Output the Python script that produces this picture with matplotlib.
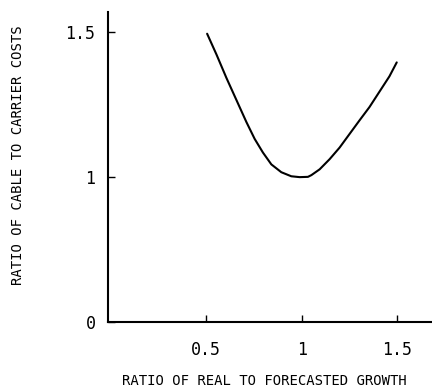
import numpy as np
import matplotlib
matplotlib.use("Agg")
import matplotlib.pyplot as plt
from matplotlib.ticker import FixedLocator, FixedFormatter

# Data
growth_ratio = [0.507, 0.556, 0.608, 0.660, 0.712, 0.755, 0.798, 0.842, 0.894,
                0.946, 0.990, 1.033, 1.051, 1.094, 1.146, 1.198, 1.250, 1.302,
                1.354, 1.406, 1.458, 1.496]
cost_ratio = [1.495, 1.423, 1.342, 1.266, 1.190, 1.132, 1.085, 1.044, 1.017,
              1.003, 1.000, 1.001, 1.007, 1.027, 1.062, 1.102, 1.149, 1.196,
              1.242, 1.295, 1.348, 1.396]
x_ticks = [0.5, 1, 1.5]
x_tick_labels = ["0.5", "1", "1.5"]
y_ticks = [0, 1, 1.5]
y_tick_labels = ["0", "1", "1.5"]


# The y axis of the original is stretched above 1 (1 -> 1.5 spans as much as 0 -> 1)
def fwd(y):
    y = np.asarray(y, dtype=float)
    return np.where(y <= 1, y, 1 + 2 * (y - 1))


def inv(t):
    t = np.asarray(t, dtype=float)
    return np.where(t <= 1, t, 1 + (t - 1) / 2)


mono = "DejaVu Sans Mono"

fig = plt.figure(figsize=(4.32, 3.90), dpi=100)
ax = fig.add_axes([108 / 432, (390 - 322) / 390, (432 - 108) / 432, (322 - 12) / 390])

ax.plot(growth_ratio, cost_ratio, color="black", lw=1.5,
        solid_capstyle="round", solid_joinstyle="round")

ax.set_yscale("function", functions=(fwd, inv))
ax.set_xlim(-0.01, 1.68)
ax.set_ylim(0, 1.57)

for s in ["top", "right"]:
    ax.spines[s].set_visible(False)
for s in ["left", "bottom"]:
    ax.spines[s].set_linewidth(1.5)

ax.xaxis.set_major_locator(FixedLocator(x_ticks))
ax.xaxis.set_major_formatter(FixedFormatter(x_tick_labels))
ax.yaxis.set_major_locator(FixedLocator(y_ticks))
ax.yaxis.set_major_formatter(FixedFormatter(y_tick_labels))
ax.minorticks_off()
ax.tick_params(axis="x", direction="in", length=5, width=1, pad=14, labelsize=12)
ax.tick_params(axis="y", direction="in", length=5, width=1, pad=9, labelsize=12)
for lab in ax.get_xticklabels() + ax.get_yticklabels():
    lab.set_family(mono)

fig.text(264 / 432, 1 - 381 / 390, "RATIO OF REAL TO FORECASTED GROWTH",
         ha="center", va="center", fontsize=10, family=mono)
fig.text(18 / 432, 1 - 155 / 390, "RATIO OF CABLE TO CARRIER COSTS",
         ha="center", va="center", rotation=90, fontsize=10, family=mono)

fig.savefig("out.png", dpi=100)
